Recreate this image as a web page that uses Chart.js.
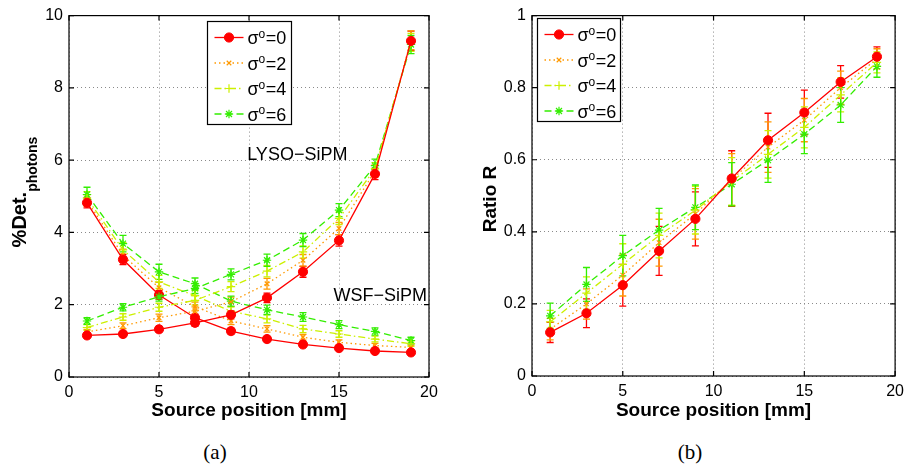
<!DOCTYPE html>
<html><head><meta charset="utf-8">
<script src="https://cdn.jsdelivr.net/npm/chart.js@4.4.1/dist/chart.umd.min.js"></script>
<style>
html,body{margin:0;padding:0;background:#fff;width:910px;height:467px;overflow:hidden}
canvas{position:absolute;top:0}
#c1{left:0}
#c2{left:455px}
.cap{position:absolute;top:440px;width:60px;text-align:center;line-height:24px;font:21px "Liberation Serif","DejaVu Serif",serif;color:#000}
</style></head><body>
<canvas id="c1" width="455" height="430"></canvas>
<canvas id="c2" width="455" height="430"></canvas>
<div class="cap" style="left:185px">(a)</div>
<div class="cap" style="left:660px">(b)</div>
<script>
// ---------------- DATA ----------------
const positions = [1, 3, 5, 7, 9, 11, 13, 15, 17, 19];
const sigmaLabels = ['σº=0', 'σº=2', 'σº=4', 'σº=6'];

// Panel (a): % detected photons, LYSO-SiPM (rising) and WSF-SiPM (falling)
const lyso_s0 = [1.15, 1.19, 1.32, 1.50, 1.72, 2.19, 2.91, 3.78, 5.62, 9.30];
const lyso_s2 = [1.25, 1.42, 1.64, 1.82, 2.08, 2.58, 3.23, 4.11, 5.70, 9.32];
const lyso_s4 = [1.37, 1.66, 1.93, 2.12, 2.50, 2.93, 3.46, 4.39, 5.76, 9.26];
const lyso_s6 = [1.55, 1.93, 2.22, 2.45, 2.84, 3.23, 3.79, 4.62, 5.85, 9.20];
const wsf_s0 = [4.82, 3.25, 2.27, 1.64, 1.27, 1.05, 0.90, 0.80, 0.72, 0.68];
const wsf_s2 = [4.88, 3.37, 2.47, 1.95, 1.55, 1.33, 1.10, 0.96, 0.87, 0.82];
const wsf_s4 = [4.95, 3.52, 2.63, 2.25, 1.82, 1.61, 1.33, 1.19, 1.05, 0.92];
const wsf_s6 = [5.05, 3.69, 2.91, 2.58, 2.10, 1.86, 1.66, 1.45, 1.26, 1.01];
const err_lyso_s0 = [0.06, 0.07, 0.08, 0.10, 0.11, 0.13, 0.15, 0.16, 0.16, 0.27];
const err_lyso_s2 = [0.07, 0.08, 0.10, 0.12, 0.13, 0.15, 0.16, 0.17, 0.17, 0.26];
const err_lyso_s4 = [0.08, 0.09, 0.11, 0.13, 0.14, 0.16, 0.17, 0.17, 0.17, 0.25];
const err_lyso_s6 = [0.09, 0.10, 0.12, 0.14, 0.15, 0.17, 0.18, 0.18, 0.18, 0.25];
const err_wsf_s0 = [0.14, 0.14, 0.12, 0.10, 0.08, 0.07, 0.06, 0.06, 0.05, 0.05];
const err_wsf_s2 = [0.16, 0.17, 0.15, 0.12, 0.10, 0.09, 0.08, 0.07, 0.06, 0.06];
const err_wsf_s4 = [0.18, 0.20, 0.18, 0.14, 0.12, 0.11, 0.10, 0.09, 0.08, 0.07];
const err_wsf_s6 = [0.20, 0.23, 0.21, 0.16, 0.14, 0.13, 0.12, 0.11, 0.10, 0.09];

// Panel (b): ratio R
const ratio_s0 = [0.121, 0.174, 0.252, 0.347, 0.436, 0.548, 0.654, 0.731, 0.816, 0.886];
const ratio_s2 = [0.130, 0.200, 0.280, 0.370, 0.450, 0.545, 0.635, 0.710, 0.800, 0.880];
const ratio_s4 = [0.150, 0.230, 0.310, 0.390, 0.460, 0.540, 0.615, 0.690, 0.780, 0.870];
const ratio_s6 = [0.167, 0.254, 0.334, 0.405, 0.468, 0.532, 0.599, 0.671, 0.752, 0.859];
const err_r_s0 = [0.028, 0.040, 0.058, 0.068, 0.075, 0.077, 0.075, 0.062, 0.045, 0.027];
const err_r_s2 = [0.030, 0.042, 0.058, 0.065, 0.070, 0.072, 0.070, 0.060, 0.046, 0.028];
const err_r_s4 = [0.032, 0.045, 0.057, 0.062, 0.066, 0.066, 0.066, 0.057, 0.047, 0.029];
const err_r_s6 = [0.035, 0.047, 0.056, 0.060, 0.062, 0.060, 0.062, 0.054, 0.048, 0.030];

// tick values and labels
const xTicks = [0, 5, 10, 15, 20];
const xTickLabels = ['0', '5', '10', '15', '20'];
const yTicksA = [0, 2, 4, 6, 8, 10];
const yTickLabelsA = ['0', '2', '4', '6', '8', '10'];
const yTicksB = [0, 0.2, 0.4, 0.6, 0.8, 1];
const yTickLabelsB = ['0', '0.2', '0.4', '0.6', '0.8', '1'];

// text annotations in panel (a) (data coordinates)
const annText = ['LYSO−SiPM', 'WSF−SiPM'];
const annX = [9.9, 14.7];
const annY = [6.13, 2.25];

// ---------------- STYLES ----------------
const STY = [
  {color: '#ff0000', dash: [], point: 'circle', r: 4.6, bw: 1},
  {color: '#ff9900', dash: [1.5, 3], point: 'crossRot', r: 3.2, bw: 1.2},
  {color: '#ccf000', dash: [7, 3, 1.5, 3], point: 'cross', r: 4.2, bw: 1.2},
  {color: '#33ee00', dash: [7, 4], point: 'star', r: 4.2, bw: 1.2}
];
const FONT = '"Liberation Sans", Arial, Helvetica, sans-serif';

function mkds(vals, errs, k, inLegend) {
  const s = STY[k];
  return {
    label: sigmaLabels[k],
    data: positions.map((x, i) => ({x: x, y: vals[i]})),
    errors: errs,
    inLegend: inLegend,
    borderColor: s.color,
    backgroundColor: s.color,
    borderWidth: 1.3,
    borderDash: s.dash,
    pointStyle: s.point,
    pointRadius: s.r,
    pointBorderWidth: s.bw,
    pointBackgroundColor: s.color,
    pointBorderColor: s.color,
    tension: 0,
    fill: false
  };
}

// ---------------- PLUGINS ----------------
const errorBars = {
  id: 'errorBars',
  beforeDatasetsDraw(chart) {
    const {ctx, scales: {x, y}} = chart;
    chart.data.datasets.forEach(ds => {
      if (!ds.errors) return;
      ctx.save();
      ctx.strokeStyle = ds.borderColor;
      ctx.lineWidth = 1.3;
      ds.data.forEach((p, j) => {
        const px = x.getPixelForValue(p.x);
        const y1 = y.getPixelForValue(p.y - ds.errors[j]);
        const y2 = y.getPixelForValue(p.y + ds.errors[j]);
        ctx.beginPath();
        ctx.moveTo(px, y1); ctx.lineTo(px, y2);
        ctx.moveTo(px - 3.5, y1); ctx.lineTo(px + 3.5, y1);
        ctx.moveTo(px - 3.5, y2); ctx.lineTo(px + 3.5, y2);
        ctx.stroke();
      });
      ctx.restore();
    });
  }
};

const frame = {
  id: 'frame',
  afterDatasetsDraw(chart) {
    const {ctx, chartArea: a, scales: {x, y}} = chart;
    ctx.save();
    ctx.strokeStyle = '#000';
    ctx.lineWidth = 1.2;
    ctx.strokeRect(a.left, a.top, a.right - a.left, a.bottom - a.top);
    ctx.beginPath();
    const L = 5;
    x.ticks.forEach(t => {
      const px = x.getPixelForValue(t.value);
      ctx.moveTo(px, a.bottom); ctx.lineTo(px, a.bottom - L);
      ctx.moveTo(px, a.top); ctx.lineTo(px, a.top + L);
    });
    y.ticks.forEach(t => {
      const py = y.getPixelForValue(t.value);
      ctx.moveTo(a.left, py); ctx.lineTo(a.left + L, py);
      ctx.moveTo(a.right, py); ctx.lineTo(a.right - L, py);
    });
    ctx.stroke();
    ctx.restore();
  }
};

function drawMarker(ctx, ds, x, y) {
  ctx.save();
  ctx.fillStyle = ds.pointBackgroundColor;
  ctx.strokeStyle = ds.pointBorderColor;
  ctx.lineWidth = ds.pointBorderWidth;
  ctx.setLineDash([]);
  if (Chart.helpers && Chart.helpers.drawPoint) {
    Chart.helpers.drawPoint(ctx, {pointStyle: ds.pointStyle, radius: ds.pointRadius, borderWidth: ds.pointBorderWidth, rotation: 0}, x, y);
  } else {
    ctx.beginPath(); ctx.arc(x, y, ds.pointRadius, 0, 2 * Math.PI); ctx.fill(); ctx.stroke();
  }
  ctx.restore();
}

const legendBox = {
  id: 'legendBox',
  afterDraw(chart, args, opts) {
    const {ctx, chartArea: a} = chart;
    const x0 = Math.round(a.left + opts.dx) + 0.5, y0 = Math.round(a.top + opts.dy) + 0.5;
    const w = opts.w, h = opts.h;
    ctx.save();
    ctx.fillStyle = '#fff';
    ctx.fillRect(x0, y0, w, h);
    ctx.strokeStyle = '#000';
    ctx.lineWidth = 1.2;
    ctx.strokeRect(x0, y0, w, h);
    const items = chart.data.datasets.filter(d => d.inLegend);
    items.forEach((ds, i) => {
      const cy = y0 + 16 + i * 25.5;
      ctx.strokeStyle = ds.borderColor;
      ctx.lineWidth = ds.borderWidth;
      ctx.setLineDash(ds.borderDash || []);
      ctx.beginPath(); ctx.moveTo(x0 + 7, cy); ctx.lineTo(x0 + 36, cy); ctx.stroke();
      ctx.setLineDash([]);
      drawMarker(ctx, ds, x0 + 21.5, cy);
      // label: σ + superscript o + rest
      const parts = ds.label.split('º');
      ctx.fillStyle = '#000';
      ctx.textBaseline = 'alphabetic';
      ctx.textAlign = 'left';
      let tx = x0 + 40;
      const base = cy + 6.5;
      ctx.font = '18px ' + FONT;
      ctx.fillText(parts[0], tx, base);
      tx += ctx.measureText(parts[0]).width;
      ctx.font = '12px ' + FONT;
      ctx.fillText('o', tx, base - 6.5);
      tx += ctx.measureText('o').width + 0.5;
      ctx.font = '18px ' + FONT;
      ctx.fillText(parts[1], tx, base);
    });
    ctx.restore();
  }
};

const annotations = {
  id: 'annotations',
  afterDatasetsDraw(chart, args, opts) {
    if (!opts.enabled) return;
    const {ctx, scales: {x, y}} = chart;
    ctx.save();
    ctx.fillStyle = '#000';
    ctx.font = '18px ' + FONT;
    ctx.textAlign = 'left';
    ctx.textBaseline = 'middle';
    annText.forEach((t, i) => {
      ctx.fillText(t, x.getPixelForValue(annX[i]), y.getPixelForValue(annY[i]));
    });
    ctx.restore();
  }
};

const yTitle = {
  id: 'yTitle',
  afterDraw(chart, args, opts) {
    const {ctx} = chart;
    ctx.save();
    ctx.translate(opts.x, opts.y);
    ctx.rotate(-Math.PI / 2);
    ctx.fillStyle = '#000';
    ctx.textBaseline = 'alphabetic';
    ctx.textAlign = 'left';
    ctx.font = 'bold ' + opts.size + 'px ' + FONT;
    const w1 = ctx.measureText(opts.main).width;
    let w2 = 0;
    if (opts.sub) {
      ctx.font = 'bold ' + opts.subSize + 'px ' + FONT;
      w2 = ctx.measureText(opts.sub).width;
    }
    const start = -(w1 + w2) / 2;
    ctx.font = 'bold ' + opts.size + 'px ' + FONT;
    ctx.fillText(opts.main, start, 0);
    if (opts.sub) {
      ctx.font = 'bold ' + opts.subSize + 'px ' + FONT;
      ctx.fillText(opts.sub, start + w1, opts.subShift);
    }
    ctx.restore();
  }
};

function axisCommon(min, max, tickVals, tickLabels, extra) {
  return Object.assign({
    type: 'linear',
    min: min, max: max,
    afterBuildTicks: s => { s.ticks = tickVals.map(v => ({value: v})); },
    grid: {color: '#8a8a8a', lineWidth: 1, drawTicks: false},
    border: {display: false, dash: [1, 3]},
    ticks: {
      color: '#000', font: {family: FONT, size: 16}, padding: 6, maxRotation: 0, autoSkip: false,
      callback: (v, i) => tickLabels[i]
    }
  }, extra);
}

function makeChart(id, datasets, cfg) {
  return new Chart(document.getElementById(id), {
    type: 'line',
    data: {datasets: datasets},
    options: {
      responsive: false,
      animation: false,
      events: [],
      layout: {padding: cfg.padding},
      scales: {
        x: axisCommon(0, 20, xTicks, xTickLabels, {
          afterFit: s => { s.height = cfg.xh; },
          title: {display: true, text: 'Source position [mm]', color: '#000',
                  font: {family: FONT, size: 19, weight: 'bold'}, padding: {top: 0, bottom: cfg.xtpad}}
        }),
        y: axisCommon(cfg.ymin, cfg.ymax, cfg.yticks, cfg.ylabels, {
          afterFit: s => { s.width = cfg.yw; }
        })
      },
      plugins: {
        legend: {display: false},
        tooltip: {enabled: false},
        legendBox: cfg.legend,
        annotations: {enabled: cfg.ann},
        yTitle: cfg.ytitle
      }
    },
    plugins: [errorBars, frame, annotations, legendBox, yTitle]
  });
}

// Panel (a)
const dsA = [
  mkds(lyso_s0, err_lyso_s0, 0, true),
  mkds(lyso_s2, err_lyso_s2, 1, true),
  mkds(lyso_s4, err_lyso_s4, 2, true),
  mkds(lyso_s6, err_lyso_s6, 3, true),
  mkds(wsf_s0, err_wsf_s0, 0, false),
  mkds(wsf_s2, err_wsf_s2, 1, false),
  mkds(wsf_s4, err_wsf_s4, 2, false),
  mkds(wsf_s6, err_wsf_s6, 3, false)
];
makeChart('c1', dsA, {
  padding: {left: 0, top: 15, right: 26, bottom: 0},
  xh: 53, xtpad: 8, yw: 69, ymin: 0, ymax: 10, yticks: yTicksA, ylabels: yTickLabelsA,
  legend: {dx: 138, dy: 5, w: 84, h: 103},
  ann: true,
  ytitle: {x: 26, y: 192, main: '%Det.', sub: 'photons', size: 20, subSize: 14, subShift: 11}
});

// Panel (b)
const dsB = [
  mkds(ratio_s0, err_r_s0, 0, true),
  mkds(ratio_s2, err_r_s2, 1, true),
  mkds(ratio_s4, err_r_s4, 2, true),
  mkds(ratio_s6, err_r_s6, 3, true)
];
makeChart('c2', dsB, {
  padding: {left: 0, top: 13, right: 12, bottom: 0},
  xh: 54, xtpad: 8, yw: 77, ymin: 0, ymax: 1, yticks: yTicksB, ylabels: yTickLabelsB,
  legend: {dx: 5, dy: 2, w: 83, h: 103},
  ann: false,
  ytitle: {x: 41, y: 199, main: 'Ratio R', sub: '', size: 19, subSize: 14, subShift: 0}
});
</script>
</body></html>
